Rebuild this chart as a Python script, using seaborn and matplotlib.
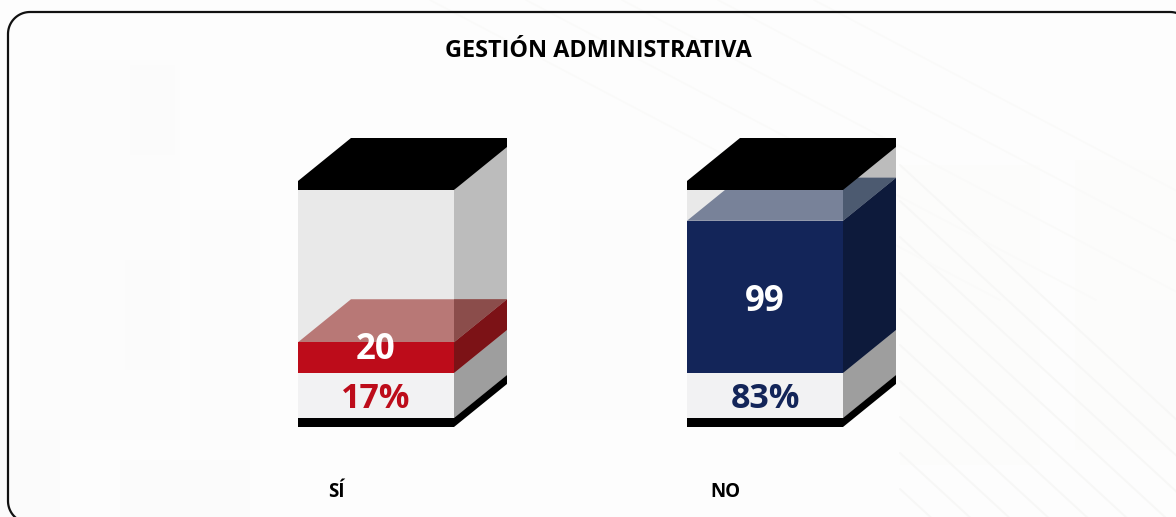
import numpy as np
import pandas as pd
import matplotlib
matplotlib.use('Agg')
import matplotlib.pyplot as plt
import seaborn as sns
from matplotlib.patches import Polygon, Rectangle
from matplotlib.transforms import Affine2D

TITLE = "GESTIÓN ADMINISTRATIVA"
categories = ["SÍ", "NO"]
counts = [20, 99]
percents = ["17%", "83%"]
bar_colors = ["#bd0c1a", "#132559"]
side_colors = ["#7c1216", "#0d1a3b"]
top_colors = ["#b87876", "#788299"]
seen_colors = ["#8b4d4b", "#4c5a70"]   # top face seen through the side wall

W, H = 1176, 517
BASE_Y = 373                # pixel row of value 0
CENTER_X = [376, 765]       # pixel columns of the two categories
PX_PER_UNIT = 183 / sum(counts)
PX_PER_CAT = CENTER_X[1] - CENTER_X[0]

sns.set_theme(style="white")
plt.rcParams['font.family'] = ['Open Sans', 'DejaVu Sans']

df = pd.DataFrame({"cat": categories, "n": counts})
fig = plt.figure(figsize=(W / 100, H / 100), dpi=100, facecolor="#fdfdfd")
ax = fig.add_axes([0, 0, 1, 1])
ax.patch.set_alpha(0)
sns.barplot(data=df, x="cat", y="n", hue="cat", palette=bar_colors, order=categories,
            hue_order=categories, width=156 / PX_PER_CAT, saturation=1, legend=False,
            linewidth=0, zorder=3, ax=ax)
ax.set_xlim(-CENTER_X[0] / PX_PER_CAT, (W - CENTER_X[0]) / PX_PER_CAT)
ax.set_ylim(-(H - BASE_Y) / PX_PER_UNIT, BASE_Y / PX_PER_UNIT)
ax.set_axis_off()

# faint photo behind the card, in pixel coordinates
pix = Affine2D().scale(1, -1).translate(0, H)
for x, y, w, h, c in [(60, 60, 120, 380, "#fcfcfc"), (130, 65, 45, 90, "#fbfbfb"),
                      (125, 260, 45, 110, "#fbfbfb"), (190, 210, 70, 240, "#fcfcfc"),
                      (20, 240, 40, 200, "#fcfcfc"), (560, 210, 90, 210, "#fcfcfc"),
                      (900, 165, 140, 300, "#fcfcfb"), (1075, 160, 101, 290, "#fcfcfb"),
                      (0, 430, 60, 87, "#fbfbfb"), (120, 460, 130, 57, "#fbfbfb"),
                      (1140, 300, 36, 110, "#fbfbfb")]:
    ax.add_patch(Rectangle((x, y), w, h, fc=c, ec="none", transform=pix, zorder=0))
for start in range(165, 520, 36):
    ax.plot([900, 1230], [start, start + 304], color="#f7f7f6", lw=1.4, transform=pix, zorder=0.1)
for start in range(0, 130, 32):
    ax.plot([430 + start * 3, 1000 + start * 3], [0, 300], color="#fafaf9", lw=1.2, transform=pix, zorder=0.1)

# card outline, running off the right and bottom of the picture
rad = 22
t = np.linspace(0, np.pi / 2, 20)
frame_x = np.r_[30 - rad * np.sin(t), 30 - rad * np.cos(t), 1170 + rad * np.sin(t)]
frame_y = np.r_[501 + rad * np.cos(t), 34 - rad * np.sin(t), 34 - rad * np.cos(t)]
ax.plot(frame_x, frame_y, color="#111111", lw=1.6, transform=pix, zorder=0.2)

total = sum(counts)
half = 78 / PX_PER_CAT
dx = 53 / PX_PER_CAT
dy = 43 / PX_PER_UNIT
gap = 45 / PX_PER_UNIT      # empty space below the bar, down to the floor
strip = 9 / PX_PER_UNIT
lid = 9 / PX_PER_UNIT


def poly(pts, color, z):
    ax.add_patch(Polygon(pts, closed=True, fc=color, ec="none", zorder=z))


for i, (n, pct) in enumerate(zip(counts, percents)):
    l, r = i - half, i + half
    # glass box: front and side
    poly([(l, -gap), (r, -gap), (r, total), (l, total)], "#e9e9e9", 1)
    poly([(l, -gap), (r, -gap), (r, 0), (l, 0)], "#f2f2f3", 1.1)
    poly([(r, -gap), (r + dx, -gap + dy), (r + dx, total + dy + lid), (r, total)], "#bcbcbc", 1)
    poly([(r, -gap), (r + dx, -gap + dy), (r + dx, dy), (r, 0)], "#9e9e9e", 1.1)

    # bar top and side
    poly([(l, n), (l + dx, n + dy), (r + dx, n + dy), (r, n)], top_colors[i], 2)
    poly([(r, 0), (r + dx, dy), (r + dx, n + dy), (r, n)], side_colors[i], 2.1)
    poly([(r, n), (r + dx, n + dy), (r, n + dy)], seen_colors[i], 2.2)

    # black lid and floor
    poly([(l, total), (l, total + lid), (l + dx, total + dy + lid), (r + dx, total + dy + lid),
          (r + dx, total + dy), (r, total)], "black", 4)
    poly([(l, -gap), (r, -gap), (r + dx, -gap + dy), (r + dx, -gap + dy - strip),
          (r, -gap - strip), (l, -gap - strip)], "black", 4)

    # labels
    label_y = n / 2 - 5 / PX_PER_UNIT if n > 40 else n - 8 / PX_PER_UNIT
    ax.text(i, label_y, str(n), color="white", fontsize=25, fontweight="bold",
            ha="center", va="center", zorder=5)
    ax.text(i, -26 / PX_PER_UNIT, pct, color=bar_colors[i], fontsize=24.5, fontweight="bold",
            ha="center", va="center", zorder=5)
    ax.text(i - 40 / PX_PER_CAT, -119 / PX_PER_UNIT, categories[i],
            color="black", fontsize=13.5, fontweight="bold", ha="center", va="center", zorder=5)

ax.text(598, 51, TITLE, color="black", fontsize=16.8, fontweight="bold", ha="center", va="center",
        transform=pix, zorder=5)

fig.savefig("out.png", dpi=100, facecolor=fig.get_facecolor())
plt.close(fig)
